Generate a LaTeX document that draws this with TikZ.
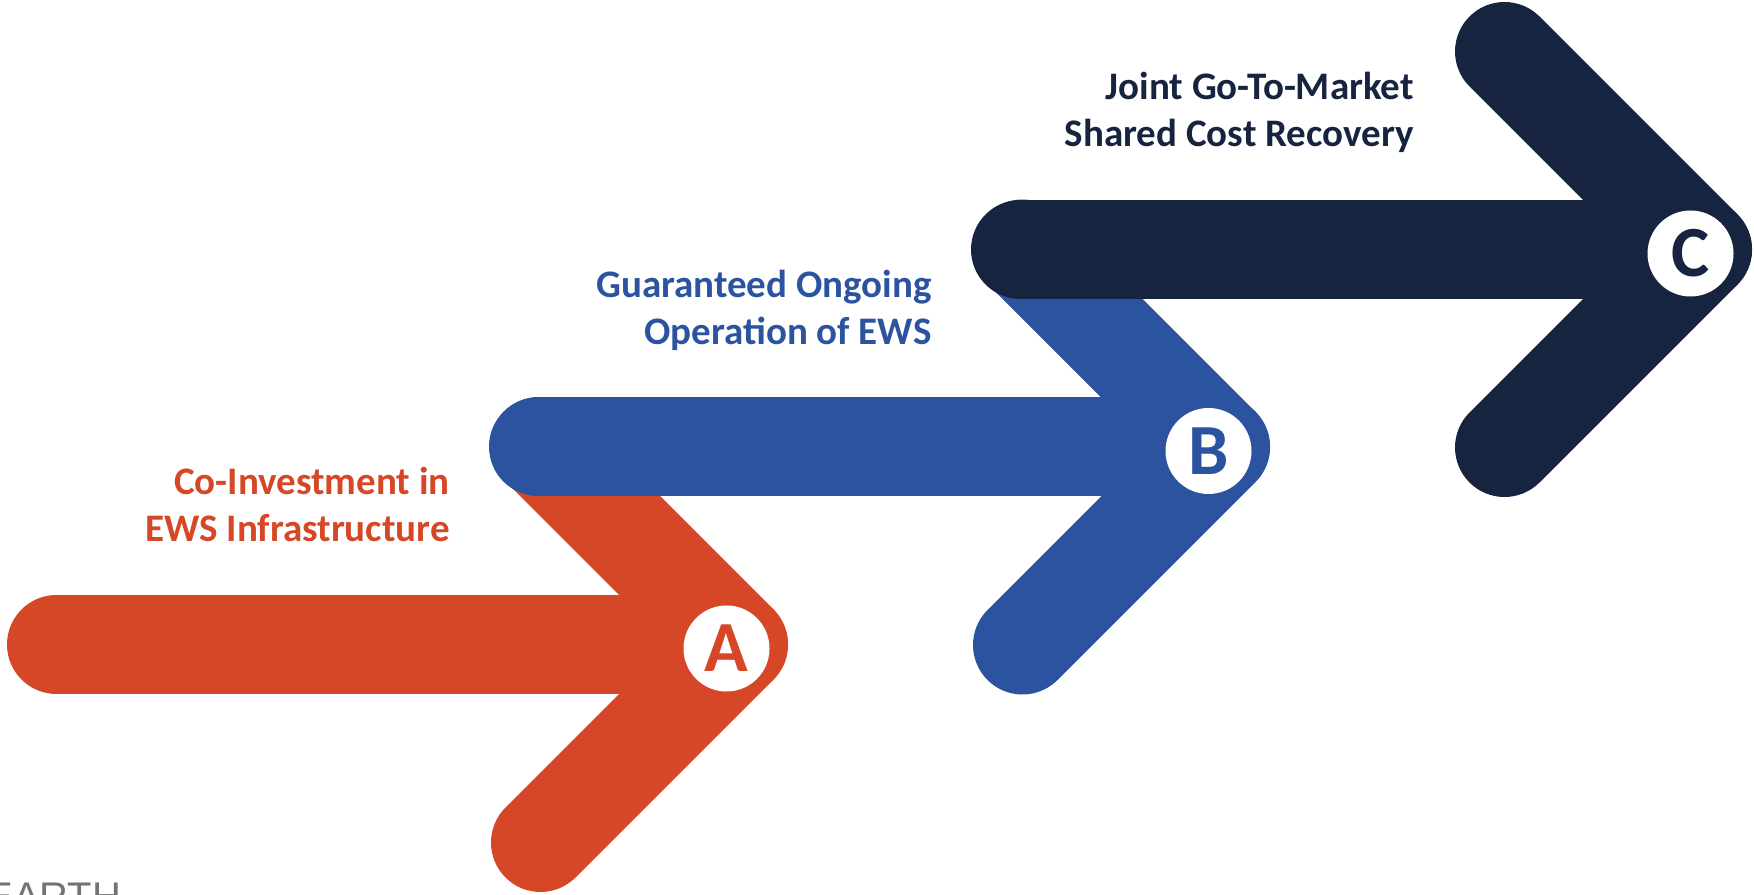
\documentclass[tikz,border=0pt]{standalone}
\usepackage{fontspec}
\setmainfont{Carlito}
\newfontfamily\logofont{Liberation Sans}
\definecolor{stepred}{HTML}{D54727}
\definecolor{stepblue}{HTML}{2B53A0}
\definecolor{stepnavy}{HTML}{17243F}
\tikzset{
  band/.style={line width=49.5pt, line cap=round, line join=round},
  badge/.style={circle, fill=white, minimum size=43pt, inner sep=0pt, font=\fontsize{36}{36}\selectfont\bfseries},
  caption/.style={anchor=base east, align=right, inner sep=0pt, font=\fontsize{19.5}{23.5}\selectfont\bfseries}
}
\begin{document}
\begin{tikzpicture}[x=.5pt,y=.5pt]
\def\sx{482}
\def\sy{197.5}
\def\arm{198}
\def\shaft{682}

\useasboundingbox (0,0) rectangle (1754,894);

%%%%%%%%%%%%%-------------flechas
\foreach \i/\col/\lab/\txt in {0/stepred/A/{Co-Investment in\\EWS Infrastructure},
                              1/stepblue/B/{Guaranteed Ongoing\\Operation of EWS},
                              2/stepnavy/C/{Joint Go-To-Market\\Shared Cost Recovery}}{
\coordinate (tip\lab) at (738.5+\i*\sx, 249.5+\i*\sy);
\draw[band, \col] (tip\lab) -- ++(-\shaft,0);
\draw[band, \col] (tip\lab) ++(-\arm,\arm) -- (tip\lab) -- ++(-\arm,-\arm);
\node[badge, text=\col] (badge\lab) at (726.5+\i*\sx, 245.5+\i*\sy) {\lab};
\node[caption, text=\col] (label\lab) at (450+\i*\sx, 352+\i*\sy) {\txt};
}

%%%%%%%%%%%%%-------------logo
\node[anchor=base west, inner sep=0pt, text=black!55, font=\logofont\fontsize{20}{20}\selectfont] (logo) at (-14,-16) {EARTH};

\end{tikzpicture}
\end{document}
